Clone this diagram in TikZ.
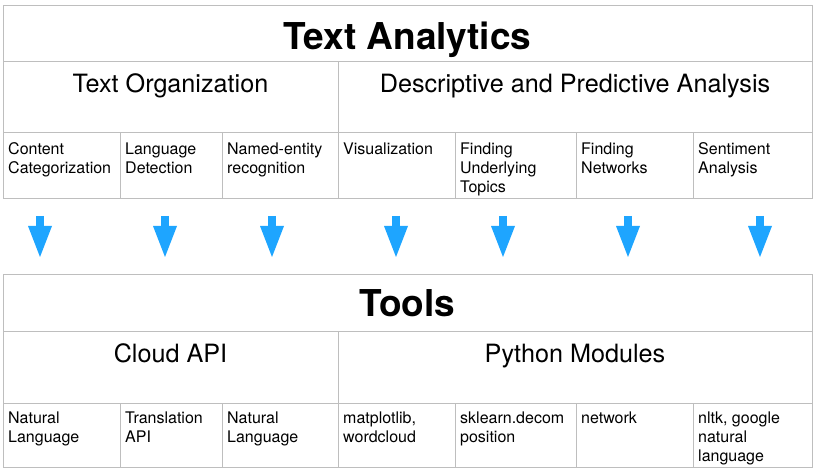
\documentclass[tikz,border=0pt]{standalone}
\usepackage{fontspec}
\setmainfont{TeX Gyre Heros}
\usetikzlibrary{positioning, arrows.meta}
\definecolor{gridgray}{HTML}{BEBEBE}
\definecolor{arrowblue}{HTML}{1EA5FF}
\tikzset{
	cell/.style={
		draw=gridgray,
		line width=1pt,
		inner sep=0pt,
		outer sep=0pt,
		anchor=north west
	},
	titletext/.style={
		inner sep=0pt,
		font={\fontsize{37}{44}\selectfont\bfseries},
		execute at begin node={\strut}
	},
	headtext/.style={
		inner sep=0pt,
		font={\fontsize{25.2}{30}\selectfont},
		execute at begin node={\strut}
	},
	itemtext/.style={
		inner sep=0pt,
		align=left,
		font={\fontsize{16}{19}\selectfont}
	},
	flow/.style={
		draw=arrowblue,
		line width=8pt,
		-{Triangle[width=24pt, length=31pt, line width=0pt]}
	}
}

\begin{document}
\begin{tikzpicture}[x=1pt, y=-1pt]
\useasboundingbox (0,0) rectangle (820,473);

% upper table
\node(ta)[cell, minimum width=809, minimum height=56] at (3,6) {};
\node(talbl)[titletext, below=13pt of ta.north] {Text Analytics};

\node(org)[cell, minimum width=335, minimum height=71] at (3,62) {};
\node(ana)[cell, minimum width=474, minimum height=71] at (338,62) {};
\node(orglbl)[headtext, below=9pt of org.north] {Text Organization};
\node(analbl)[headtext, below=9pt of ana.north] {Descriptive and Predictive Analysis};

\foreach \xa/\xb/\nm/\txt in {3/120/cc/{Content\\Categorization}, 120/222/ld/{Language\\Detection},
	222/338/ner/{Named-entity\\recognition}, 338/455/vis/{Visualization},
	455/576/topic/{Finding\\Underlying\\Topics}, 576/693/net/{Finding\\Networks},
	693/812/sent/{Sentiment\\Analysis}} {
	\node(\nm)[cell, minimum width=\xb-\xa, minimum height=66] at (\xa,133) {};
	\node(\nm-lbl)[itemtext, below right=7.7pt and 5pt of \nm.north west] {\strut\txt};
};

% arrows
\foreach \ax [count=\ii] in {40,165,272,396,503,628,760} {
	\coordinate(from\ii) at (\ax,216);
	\coordinate(to\ii) at (\ax,257);
	\draw[flow] (from\ii) -- (to\ii);
};

% lower table
\node(tools)[cell, minimum width=809, minimum height=57] at (3,275) {};
\node(toolslbl)[titletext, below=11pt of tools.north] {Tools};

\node(cloud)[cell, minimum width=335, minimum height=71] at (3,332) {};
\node(py)[cell, minimum width=474, minimum height=71] at (338,332) {};
\node(cloudlbl)[headtext, below=9pt of cloud.north] {Cloud API};
\node(pylbl)[headtext, below=9pt of py.north] {Python Modules};

\foreach \xa/\xb/\nm/\txt in {3/120/nl/{Natural\\Language}, 120/222/trans/{Translation\\API},
	222/338/nlb/{Natural\\Language}, 338/455/mpl/{matplotlib,\\wordcloud},
	455/576/skl/{sklearn.decom\\position}, 576/693/nx/{network},
	693/812/nltk/{nltk, google\\natural\\language}} {
	\node(\nm)[cell, minimum width=\xb-\xa, minimum height=64] at (\xa,403) {};
	\node(\nm-lbl)[itemtext, below right=6.7pt and 5pt of \nm.north west] {\strut\txt};
};

\end{tikzpicture}
\end{document}
